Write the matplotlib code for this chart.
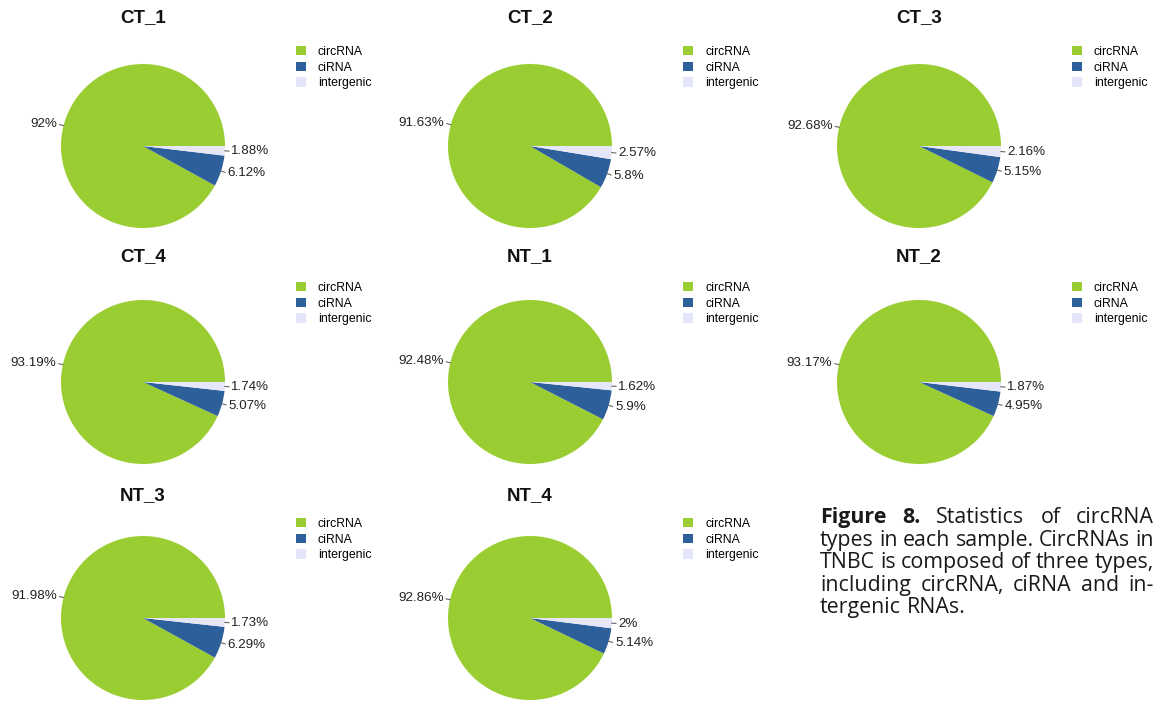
import matplotlib.pyplot as plt
from matplotlib.patches import Patch
import numpy as np

plt.rcParams['font.family'] = ['Liberation Sans', 'DejaVu Sans']

# data (percent per sample)
samples = ['CT_1', 'CT_2', 'CT_3', 'CT_4', 'NT_1', 'NT_2', 'NT_3', 'NT_4']
circRNA = [92, 91.63, 92.68, 93.19, 92.48, 93.17, 91.98, 92.86]
ciRNA = [6.12, 5.8, 5.15, 5.07, 5.9, 4.95, 6.29, 5.14]
intergenic = [1.88, 2.57, 2.16, 1.74, 1.62, 1.87, 1.73, 2]
types = ['circRNA', 'ciRNA', 'intergenic']
colors = ['#9acd32', '#2d5f9a', '#e6e6fa']

caption_lines = [
    ('Figure 8.', 'Statistics of circRNA', True),
    ('', 'types in each sample. CircRNAs in', True),
    ('', 'TNBC is composed of three types,', True),
    ('', 'including circRNA, ciRNA and in-', True),
    ('', 'tergenic RNAs.', False),
]

W, H = 1156, 702
fig = plt.figure(figsize=(W / 100, H / 100), dpi=100)

col_x = [143, 530, 919]
row_y = [146, 382, 618]
title_y = [18, 257, 496]
R = 82

for i, name in enumerate(samples):
    r, c = divmod(i, 3)
    cx, cy = col_x[c], row_y[r]
    ax = fig.add_axes([(cx - R) / W, 1 - (cy + R) / H, 2 * R / W, 2 * R / H])
    vals = [circRNA[i], ciRNA[i], intergenic[i]]
    wedges, _ = ax.pie(vals, colors=colors, startangle=0, counterclock=True,
                       radius=1, wedgeprops=dict(linewidth=0))
    ax.set_xlim(-1, 1)
    ax.set_ylim(-1, 1)
    ax.axis('off')

    # percentage labels with short leader ticks
    for w, v in zip(wedges, vals):
        ang = np.deg2rad((w.theta1 + w.theta2) / 2)
        x, y = np.cos(ang), np.sin(ang)
        ax.plot([1.0 * x, 1.05 * x], [1.0 * y, 1.05 * y], color='#666666',
                lw=0.8, clip_on=False)
        ax.text(1.08 * x, 1.08 * y, f'{v:g}%', ha='left' if x > 0 else 'right',
                va='center', fontsize=9.6, color='#222222', clip_on=False)

    fig.text(cx / W, 1 - title_y[r] / H, name, ha='center', va='center',
             fontsize=13.5, fontweight='bold', color='#111111')

    handles = [Patch(facecolor=col, edgecolor='none') for col in colors]
    ax.legend(handles, types, loc='upper left',
              bbox_to_anchor=((cx + 153) / W, 1 - (cy - 100) / H),
              bbox_transform=fig.transFigure, frameon=False, fontsize=8.8,
              handlelength=0.8, handleheight=0.8, handletextpad=1.0,
              labelspacing=0.3, borderpad=0, borderaxespad=0)

# caption, justified by hand
renderer = fig.canvas.get_renderer()
cap_left, cap_right = 820, 1154
baselines = [523, 546, 568, 591, 613]
cap_family = ['Open Sans', 'DejaVu Sans']
# size the caption font so the second line fills the column naturally
probe = fig.text(0, 0, caption_lines[1][1], family=cap_family, fontsize=13)
fs = 13 * (cap_right - cap_left - 2) / probe.get_window_extent(renderer).width
probe.remove()
cap_font = dict(family=cap_family, fontsize=fs, color='#1a1a1a')
for (bold, rest, justify), yb in zip(caption_lines, baselines):
    words = [(wd, True) for wd in bold.split()] + [(wd, False) for wd in rest.split()]
    texts = []
    for wd, is_bold in words:
        t = fig.text(0, 1 - yb / H, wd, va='baseline', ha='left',
                     fontweight='bold' if is_bold else 'normal', **cap_font)
        texts.append(t)
    widths = [t.get_window_extent(renderer).width for t in texts]
    if justify and len(texts) > 1:
        gap = (cap_right - cap_left - sum(widths)) / (len(texts) - 1)
    else:
        gap = fs * 0.35
    x = cap_left
    for t, wdt in zip(texts, widths):
        t.set_x(x / W)
        x += wdt + gap

fig.savefig('out.png', dpi=100)
